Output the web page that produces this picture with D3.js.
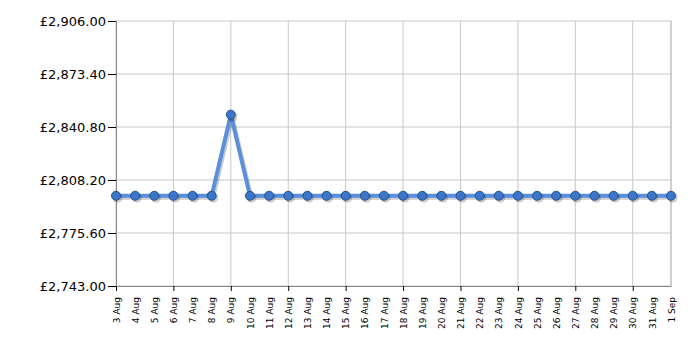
<!DOCTYPE html>
<html>
<head>
<meta charset="utf-8">
<script src="https://cdn.jsdelivr.net/npm/d3@7"></script>
<style>
  body { margin: 0; background: #fff; }
  svg text { font-family: "DejaVu Sans", Verdana, sans-serif; fill: #000; }
</style>
</head>
<body>
<div id="chart"></div>
<script>
const dates = ["3 Aug","4 Aug","5 Aug","6 Aug","7 Aug","8 Aug","9 Aug","10 Aug","11 Aug","12 Aug",
  "13 Aug","14 Aug","15 Aug","16 Aug","17 Aug","18 Aug","19 Aug","20 Aug","21 Aug","22 Aug",
  "23 Aug","24 Aug","25 Aug","26 Aug","27 Aug","28 Aug","29 Aug","30 Aug","31 Aug","1 Sep"];
const prices = [2798.5,2798.5,2798.5,2798.5,2798.5,2798.5,2848.4,2798.5,2798.5,2798.5,
  2798.5,2798.5,2798.5,2798.5,2798.5,2798.5,2798.5,2798.5,2798.5,2798.5,
  2798.5,2798.5,2798.5,2798.5,2798.5,2798.5,2798.5,2798.5,2798.5,2798.5];
const yTicks = [2743.00, 2775.60, 2808.20, 2840.80, 2873.40, 2906.00];

const width = 700, height = 350;
const margin = {top: 21, right: 29, bottom: 64, left: 116};
const graphWidth = width - margin.left - margin.right;
const graphHeight = height - margin.top - margin.bottom;

const svg = d3.select('#chart')
  .append('svg')
    .attr('width', width)
    .attr('height', height);

const graph = svg.append('g')
  .attr('transform', `translate(${margin.left},${margin.top})`);

const x = d3.scalePoint()
  .domain(dates)
  .range([0, graphWidth]);

const y = d3.scaleLinear()
  .domain([yTicks[0], yTicks[yTicks.length - 1]])
  .range([graphHeight, 0]);

const fmt = v => '£' + d3.format(',.2f')(v);
const gridDates = dates.filter((d, i) => i % 3 === 0);

// grid
graph.append('g')
  .selectAll('line.h')
  .data(yTicks)
  .enter().append('line')
    .attr('x1', 0).attr('x2', graphWidth)
    .attr('y1', d => y(d)).attr('y2', d => y(d))
    .attr('stroke', '#c8c8c8');

graph.append('g')
  .selectAll('line.v')
  .data(gridDates)
  .enter().append('line')
    .attr('x1', d => x(d)).attr('x2', d => x(d))
    .attr('y1', 0).attr('y2', graphHeight)
    .attr('stroke', '#c8c8c8');

// right border
graph.append('line')
  .attr('x1', graphWidth).attr('x2', graphWidth)
  .attr('y1', 0).attr('y2', graphHeight)
  .attr('stroke', '#a0a0a0');

// axes
const yAxis = d3.axisLeft(y).tickValues(yTicks).tickFormat(fmt).tickSize(8).tickPadding(2);
const yAxisGroup = graph.append('g').call(yAxis);
yAxisGroup.select('.domain').attr('stroke', '#888');
yAxisGroup.selectAll('.tick line').attr('stroke', '#000');
yAxisGroup.selectAll('text').style('font-size', '13px');

const xAxis = d3.axisBottom(x).tickValues(dates).tickSize(0).tickPadding(0);
const xAxisGroup = graph.append('g')
  .attr('transform', `translate(0,${graphHeight})`)
  .call(xAxis);
xAxisGroup.select('.domain').attr('stroke', '#888');
xAxisGroup.selectAll('.tick line').remove();
xAxisGroup.selectAll('.tick')
  .filter(d => gridDates.includes(d))
  .append('line')
    .attr('y2', 5)
    .attr('stroke', '#000');
xAxisGroup.selectAll('text')
  .style('font-size', '9px')
  .attr('text-anchor', 'end')
  .attr('dy', '0.35em')
  .attr('transform', 'translate(0,11) rotate(-90)')
  .attr('x', 0).attr('y', 0);

// line with shadow
const line = d3.line()
  .x((d, i) => x(dates[i]))
  .y(d => y(d));

graph.append('path')
  .datum(prices)
  .attr('d', line)
  .attr('transform', 'translate(1.5,2)')
  .attr('fill', 'none')
  .attr('stroke', 'rgba(0,0,0,0.2)')
  .attr('stroke-width', 4);

graph.append('path')
  .datum(prices)
  .attr('d', line)
  .attr('fill', 'none')
  .attr('stroke', '#5b8fdb')
  .attr('stroke-width', 4)
  .attr('stroke-linejoin', 'round');

graph.append('g')
  .selectAll('circle')
  .data(prices)
  .enter().append('circle')
    .attr('cx', (d, i) => x(dates[i]) + 1.5)
    .attr('cy', d => y(d) + 2)
    .attr('r', 5)
    .attr('fill', 'rgba(0,0,0,0.2)');

graph.append('g')
  .selectAll('circle')
  .data(prices)
  .enter().append('circle')
    .attr('cx', (d, i) => x(dates[i]))
    .attr('cy', d => y(d))
    .attr('r', 4.5)
    .attr('fill', '#3d76c9')
    .attr('stroke', '#245192')
    .attr('stroke-width', 1);
</script>
</body>
</html>
